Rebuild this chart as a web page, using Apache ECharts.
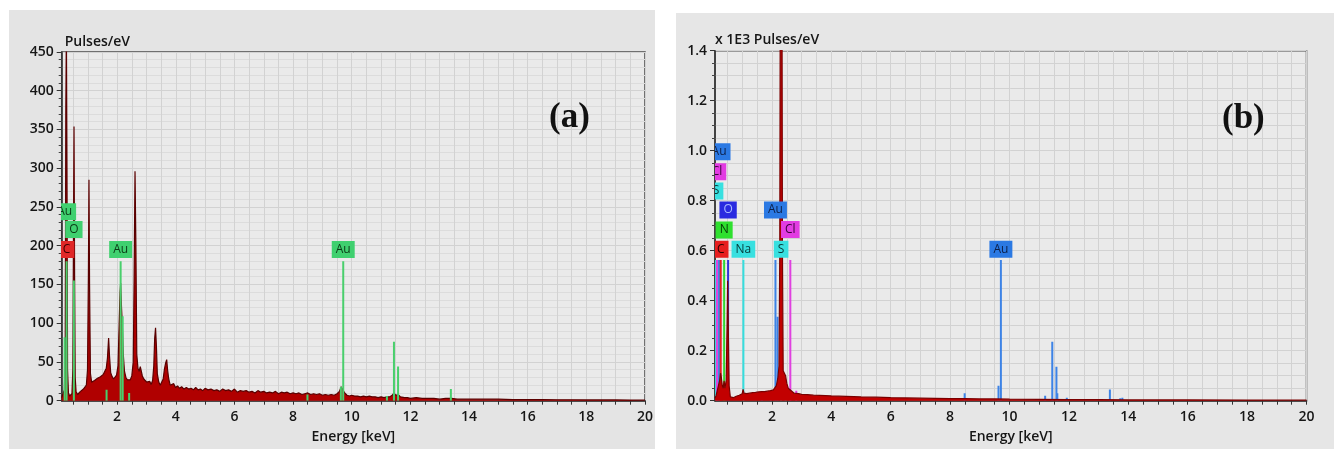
<!DOCTYPE html>
<html><head><meta charset="utf-8">
<script src="https://cdn.jsdelivr.net/npm/echarts@6/dist/echarts.min.js"></script>
<style>html,body{margin:0;padding:0;background:#fff}#c{width:1334px;height:449px}</style>
</head><body><div id="c"></div>
<script>
// ---------- axis tick values ----------
const xLabelValues = [2,4,6,8,10,12,14,16,18,20];
const xTickValues = [0.5,1,1.5,2,2.5,3,3.5,4,4.5,5,5.5,6,6.5,7,7.5,8,8.5,9,9.5,10,10.5,11,11.5,12,12.5,13,13.5,14,14.5,15,15.5,16,16.5,17,17.5,18,18.5,19,19.5,20];

// ---------- panel (a) ----------
const specA = [[0.11,4],[0.16,6],[0.20,14],[0.23,60],[0.25,372],[0.27,480],[0.29,300],[0.31,40],[0.34,10],[0.38,6],[0.42,5],[0.46,9],[0.49,40],[0.51,200],[0.53,354],[0.55,160],[0.57,30],[0.60,12],[0.65,8],[0.70,10],[0.75,12],[0.80,13],[0.85,15],[0.90,17],[0.95,20],[0.99,40],[1.02,160],[1.04,285],[1.06,150],[1.09,35],[1.13,24],[1.18,22],[1.23,26],[1.28,24],[1.33,29],[1.38,27],[1.43,31],[1.48,30],[1.53,34],[1.58,36],[1.63,42],[1.67,55],[1.71,81],[1.74,58],[1.78,36],[1.83,31],[1.88,28],[1.93,30],[1.98,33],[2.03,45],[2.07,100],[2.10,140],[2.12,152],[2.15,120],[2.18,95],[2.21,60],[2.25,38],[2.30,30],[2.35,27],[2.40,29],[2.45,27],[2.50,32],[2.55,50],[2.58,160],[2.61,296],[2.64,200],[2.67,60],[2.71,42],[2.75,38],[2.79,44],[2.82,46],[2.86,32],[2.91,28],[2.96,30],[3.01,24],[3.06,22],[3.11,25],[3.16,21],[3.21,26],[3.25,45],[3.28,80],[3.31,94],[3.34,70],[3.37,35],[3.42,24],[3.47,20],[3.52,22],[3.57,28],[3.61,40],[3.65,48],[3.69,53],[3.72,40],[3.76,28],[3.81,20],[3.87,18],[3.93,22],[3.99,17],[4.06,19],[4.13,16],[4.20,18],[4.28,15],[4.36,17],[4.44,15],[4.52,16],[4.60,14],[4.68,17],[4.76,14],[4.84,15],[4.92,13],[5.00,16],[5.10,14],[5.20,15],[5.30,13],[5.40,14],[5.50,12],[5.60,15],[5.70,13],[5.80,14],[5.90,12],[6.00,15],[6.10,11],[6.20,13],[6.30,12],[6.40,13],[6.50,11],[6.60,12],[6.70,10],[6.80,13],[6.90,11],[7.00,12],[7.10,10],[7.20,11],[7.30,10],[7.40,12],[7.50,9],[7.60,11],[7.70,10],[7.80,11],[7.90,9],[8.00,10],[8.10,9],[8.20,10],[8.30,8],[8.40,9],[8.50,10],[8.60,8],[8.70,9],[8.80,8],[8.90,9],[9.00,7],[9.10,8],[9.20,7],[9.30,8],[9.40,7],[9.50,9],[9.58,12],[9.64,18],[9.70,17],[9.76,10],[9.84,7],[9.92,6],[10.0,7],[10.1,6],[10.2,6],[10.3,5],[10.4,6],[10.5,5],[10.6,6],[10.7,5],[10.8,5],[10.9,4],[11.0,5],[11.1,4],[11.2,5],[11.3,5],[11.38,7],[11.44,10],[11.5,7],[11.58,8],[11.66,5],[11.8,4],[11.9,4],[12.0,3],[12.2,4],[12.4,3],[12.6,3],[12.8,3],[13.0,2],[13.2,3],[13.4,3],[13.6,2],[13.8,2],[14.0,2],[14.5,2],[15.0,2],[15.5,1.5],[16.0,1.5],[16.5,1.5],[17.0,1.2],[17.5,1.2],[18.0,1],[18.5,1],[19.0,1],[19.5,0.8],[20.0,0.8]];
const markersA = [[0.21,82],[0.277,180],[0.525,155],[1.64,14],[2.12,180],[2.19,109],[2.41,10],[8.49,8],[9.63,18],[9.71,180],[11.2,6],[11.44,76],[11.58,44],[13.38,15]];
const labelsA = [['Au',0.21,244],['O',0.525,221],['C',0.277,195],['Au',2.12,195],['Au',9.71,195]];

// ---------- panel (b) (x 1E3 Pulses/eV) ----------
const specB = [[0.084,0.01],[0.12,0.02],[0.16,0.04],[0.2,0.06],[0.24,0.08],[0.27,0.11],[0.3,0.09],[0.33,0.06],[0.36,0.05],[0.39,0.08],[0.42,0.05],[0.46,0.08],[0.49,0.3],[0.51,0.48],[0.53,0.3],[0.56,0.06],[0.6,0.015],[0.65,0.01],[0.7,0.012],[0.75,0.015],[0.8,0.018],[0.85,0.02],[0.9,0.022],[0.95,0.025],[1.0,0.028],[1.03,0.045],[1.06,0.03],[1.1,0.025],[1.15,0.028],[1.2,0.026],[1.25,0.03],[1.3,0.028],[1.35,0.032],[1.4,0.03],[1.45,0.033],[1.5,0.031],[1.55,0.035],[1.6,0.033],[1.65,0.036],[1.7,0.038],[1.75,0.036],[1.8,0.04],[1.85,0.038],[1.9,0.042],[1.95,0.04],[2.0,0.045],[2.05,0.043],[2.1,0.05],[2.15,0.06],[2.2,0.09],[2.24,0.14],[2.265,0.6],[2.28,1.6],[2.31,1.65],[2.34,1.6],[2.355,0.6],[2.38,0.12],[2.42,0.11],[2.46,0.1],[2.5,0.07],[2.55,0.05],[2.6,0.045],[2.65,0.04],[2.7,0.035],[2.75,0.03],[2.8,0.03],[2.9,0.028],[3.0,0.025],[3.2,0.024],[3.4,0.022],[3.6,0.021],[3.8,0.02],[4.0,0.019],[4.5,0.017],[5.0,0.015],[5.5,0.014],[6.0,0.012],[6.5,0.011],[7.0,0.01],[7.5,0.009],[8.0,0.008],[8.5,0.008],[9.0,0.007],[9.5,0.007],[10.0,0.006],[11.0,0.005],[12.0,0.004],[13.0,0.004],[14.0,0.003],[16.0,0.003],[18.0,0.002],[20.0,0.002]];
const markersB = [['S',0.10,0.563],['Cl',0.15,0.563],['Au',0.22,0.563],['C',0.277,0.563],['N',0.392,0.563],['O',0.525,0.563],['Na',1.04,0.563],['Au',1.66,0.023],['Au',1.96,0.02],['Au',2.12,0.563],['Au',2.19,0.336],['S',2.31,0.563],['S',2.46,0.05],['Cl',2.62,0.563],['Cl',2.82,0.04],['Au',8.49,0.03],['Au',9.63,0.06],['Au',9.71,0.563],['Au',11.2,0.02],['Au',11.44,0.236],['Au',11.58,0.136],['Au',11.61,0.03],['Au',11.93,0.012],['Au',13.38,0.045],['Au',13.73,0.01],['Au',13.8,0.012]];
const labelsB = [['Au',0.22,0.996],['Cl',0.15,0.916],['S',0.12,0.839],['O',0.525,0.763],['N',0.392,0.683],['C',0.277,0.606],['Na',1.04,0.606],['Au',2.12,0.763],['Cl',2.62,0.685],['S',2.31,0.606],['Au',9.71,0.606]];

// ---------- styles ----------
const FONT = '"Open Sans", "Noto Sans", sans-serif';
const TXT = '#161616';
const lineColB = {Au:'#3d83e6', Cl:'#e040e0', S:'#35dede', C:'#e82020', N:'#30d830', O:'#3232d8', Na:'#35dede'};
const boxBgB = {Au:'#2b79e3', Cl:'#e23ce2', S:'#38e0e0', C:'#e61e1e', N:'#2fe02f', O:'#2a2ae0', Na:'#38e0e0'};
const boxFgB = {Au:'#0c1f48', Cl:'#3a003a', S:'#053838', C:'#2a0000', N:'#063806', O:'#a8b8ff', Na:'#053838'};

function markerRenderer(colorOf) {
  return function (params, api) {
    const x = api.value(0), h = api.value(1);
    const a = api.coord([x, 0]), b = api.coord([x, h]);
    return {type:'line', shape:{x1:a[0], y1:a[1], x2:b[0], y2:b[1]},
            style:{stroke: colorOf(params.dataIndex), lineWidth: 2}};
  };
}
function labelRenderer(list, bgOf, fgOf) {
  return function (params, api) {
    const p = api.coord([api.value(0), api.value(1)]);
    const name = list[params.dataIndex][0];
    return {type:'text', x:p[0], y:p[1],
            style:{text:name, fill:fgOf(name), backgroundColor:bgOf(name), padding:[3,4,2,4],
                   align:'center', verticalAlign:'middle', font:'12px ' + FONT}};
  };
}

function xAxisCfg(gi) {
  return {
    type:'value', gridIndex: gi, min: gi === 0 ? 0.11 : 0.084, max: 20,
    name:'Energy [keV]', nameLocation:'middle', nameGap: 29,
    nameTextStyle:{fontFamily:FONT, fontSize:14, fontWeight:600, color:TXT},
    axisLine:{show:true, onZero:false, lineStyle:{color:'#333', width:1.5}},
    axisTick:{show:true, customValues:xTickValues, length:4, lineStyle:{color:'#333'}},
    axisLabel:{customValues:xLabelValues, fontFamily:FONT, fontSize:14, fontWeight:600, color:TXT, margin:9},
    splitLine:{show:true, lineStyle:{color:'#d2d2d2', width:1}}
  };
}

const chart = echarts.init(document.getElementById('c'), null, {renderer:'canvas', width:1334, height:449});
chart.setOption({
  animation:false,
  backgroundColor:'#ffffff',
  graphic:[
    {type:'rect', z:-100, shape:{x:9, y:10, width:646, height:439}, style:{fill:'#e4e4e4'}},
    {type:'rect', z:-100, shape:{x:676, y:13, width:658, height:436}, style:{fill:'#e6e6e6'}},
    {type:'text', z:100, left:549, top:100, style:{text:'(a)', font:'bold 35px "Liberation Serif", serif', fill:'#111'}},
    {type:'text', z:100, left:1222, top:101, style:{text:'(b)', font:'bold 35px "Liberation Serif", serif', fill:'#111'}}
  ],
  grid:[
    {left:61.7, top:52, width:583.3, height:348.7, show:true, backgroundColor:'#eaeaea', borderColor:'#4a4a4a', borderWidth:1.5},
    {left:715, top:50.7, width:591.5, height:350, show:true, backgroundColor:'#eaeaea', borderColor:'#4a4a4a', borderWidth:1.5}
  ],
  xAxis:[xAxisCfg(0), xAxisCfg(1)],
  yAxis:[
    {type:'value', gridIndex:0, min:0, max:450, interval:50,
     name:'Pulses/eV', nameLocation:'end', nameGap:10,
     nameTextStyle:{fontFamily:FONT, fontSize:14, fontWeight:600, color:TXT, align:'left', verticalAlign:'middle', padding:[0,0,0,3]},
     axisLine:{show:true, lineStyle:{color:'#333', width:1.5}},
     axisTick:{show:true, length:5, lineStyle:{color:'#333'}},
     minorTick:{show:true, splitNumber:5, length:3, lineStyle:{color:'#444'}},
     axisLabel:{fontFamily:FONT, fontSize:14, fontWeight:600, color:TXT, margin:8},
     splitLine:{show:true, lineStyle:{color:'#d2d2d2'}},
     minorSplitLine:{show:true, lineStyle:{color:'#dcdcdc'}}},
    {type:'value', gridIndex:1, min:0, max:1.4, interval:0.2,
     name:'x 1E3 Pulses/eV', nameLocation:'end', nameGap:11,
     nameTextStyle:{fontFamily:FONT, fontSize:14, fontWeight:600, color:TXT, align:'left', verticalAlign:'middle', padding:[0,0,0,0]},
     axisLine:{show:true, lineStyle:{color:'#333', width:1.5}},
     axisTick:{show:true, length:5, lineStyle:{color:'#333'}},
     minorTick:{show:true, splitNumber:4, length:3, lineStyle:{color:'#444'}},
     axisLabel:{fontFamily:FONT, fontSize:14, fontWeight:600, color:TXT, margin:8, formatter:v => v.toFixed(1)},
     splitLine:{show:true, lineStyle:{color:'#d2d2d2'}},
     minorSplitLine:{show:true, lineStyle:{color:'#d2d2d2'}}}
  ],
  series:[
    {type:'line', xAxisIndex:0, yAxisIndex:0, data:specA, symbol:'none', z:3,
     lineStyle:{color:'#5a0000', width:1.2}, areaStyle:{color:'#b00000', opacity:1}},
    {type:'custom', xAxisIndex:0, yAxisIndex:0, z:4, clip:true,
     data:markersA, encode:{x:0, y:1},
     renderItem:markerRenderer(() => '#49cf6c')},
    {type:'custom', xAxisIndex:0, yAxisIndex:0, z:5, clip:true,
     data:labelsA.map(d => [d[1], d[2]]), encode:{x:0, y:1},
     renderItem:labelRenderer(labelsA, n => n === 'C' ? '#e02828' : '#3fd06f', n => n === 'C' ? '#3a0000' : '#0b3a17')},

    {type:'custom', xAxisIndex:1, yAxisIndex:1, z:3, clip:true,
     data:markersB.map(d => [d[1], d[2]]), encode:{x:0, y:1},
     renderItem:markerRenderer(i => lineColB[markersB[i][0]])},
    {type:'line', xAxisIndex:1, yAxisIndex:1, data:specB, symbol:'none', z:4,
     lineStyle:{color:'#7a0000', width:1.2}, areaStyle:{color:'#c20000', opacity:1}},
    {type:'custom', xAxisIndex:1, yAxisIndex:1, z:5, clip:true,
     data:labelsB.map(d => [d[1], d[2]]), encode:{x:0, y:1},
     renderItem:labelRenderer(labelsB, n => boxBgB[n], n => boxFgB[n])}
  ]
});
</script></body></html>
